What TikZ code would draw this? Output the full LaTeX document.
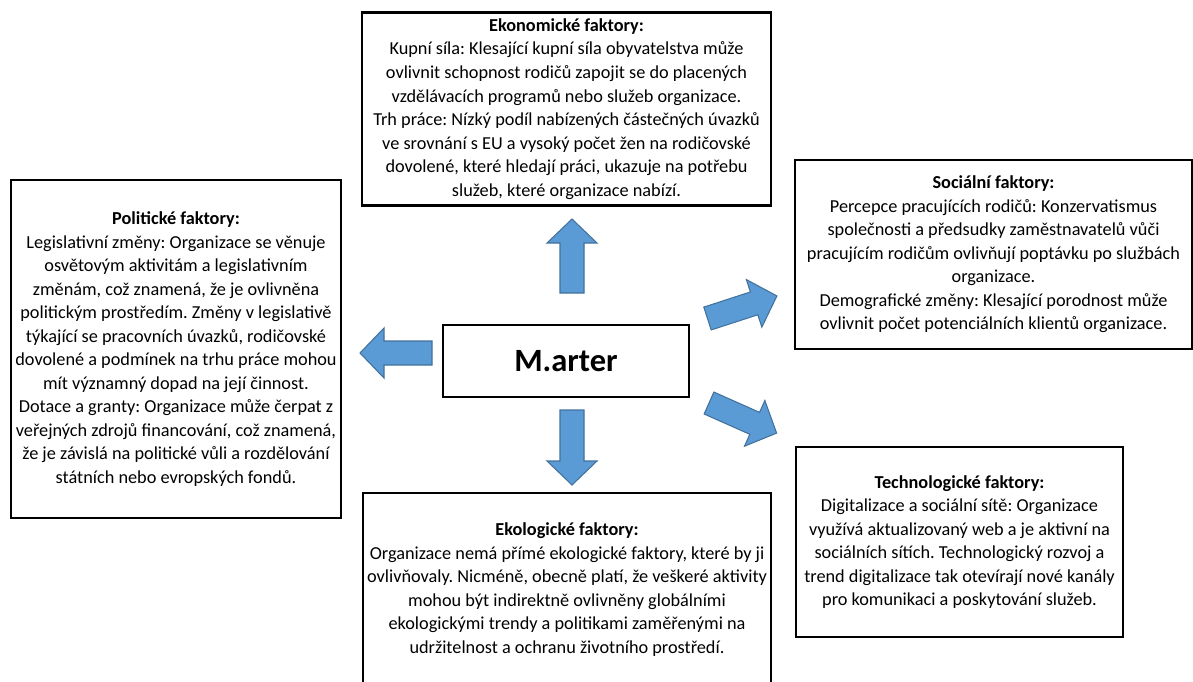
\documentclass[tikz,border=0pt]{standalone}
\usepackage{fontspec}
\setmainfont{Carlito}
\usepackage{tikz}
\usetikzlibrary{calc}
\definecolor{arrowblue}{HTML}{5B9BD5}
\definecolor{arrowline}{HTML}{41719C}
\def\blockarrow[#1](#2)(#3:#4){\draw[#1, shift={(#2)}, rotate=#3] (0,-12) -- (#4-24,-12) -- (#4-24,-25) -- (#4,0) -- (#4-24,25) -- (#4-24,12) -- (0,12) -- cycle;}
\frenchspacing

\begin{document}
\begin{tikzpicture}[x=0.02cm, y=-0.02cm,
	factorbox/.style={draw, line width=1.6pt, align=center, inner xsep=0pt,
		font=\fontsize{10.4}{13.4}\selectfont},
	bluearrow/.style={fill=arrowblue, draw=arrowline, line width=0.6pt}]
		%%%%% START %%%%%
		\useasboundingbox (0, 0) rectangle (1193, 681);
		
		\node[factorbox, minimum width=8.18cm, minimum height=3.86cm] (ekonomicke) at (566.5, 109) {\textbf{Ekonomické faktory:}\\
			Kupní síla: Klesající kupní síla obyvatelstva může\\
			ovlivnit schopnost rodičů zapojit se do placených\\
			vzdělávacích programů nebo služeb organizace.\\
			Trh práce: Nízký podíl nabízených částečných úvazků\\
			ve srovnání s EU a vysoký počet žen na rodičovské\\
			dovolené, které hledají práci, ukazuje na potřebu\\
			služeb, které organizace nabízí.};
		
		\node[factorbox, minimum width=6.6cm, minimum height=6.76cm] (politicke) at (176, 349) {\textbf{Politické faktory:}\\
			Legislativní změny: Organizace se věnuje\\
			osvětovým aktivitám a legislativním\\
			změnám, což znamená, že je ovlivněna\\
			politickým prostředím. Změny v legislativě\\
			týkající se pracovních úvazků, rodičovské\\
			dovolené a podmínek na trhu práce mohou\\
			mít významný dopad na její činnost.\\
			Dotace a granty: Organizace může čerpat z\\
			veřejných zdrojů financování, což znamená,\\
			že je závislá na politické vůli a rozdělování\\
			státních nebo evropských fondů.};
		
		\node[factorbox, minimum width=7.94cm, minimum height=3.78cm] (socialni) at (993.5, 254.5) {\textbf{Sociální faktory:}\\
			Percepce pracujících rodičů: Konzervatismus\\
			společnosti a předsudky zaměstnavatelů vůči\\
			pracujícím rodičům ovlivňují poptávku po službách\\
			organizace.\\
			Demografické změny: Klesající porodnost může\\
			ovlivnit počet potenciálních klientů organizace.};
		
		\node[factorbox, minimum width=6.54cm, minimum height=3.8cm] (technologicke) at (959.5, 542) {\textbf{Technologické faktory:}\\
			Digitalizace a sociální sítě: Organizace\\
			využívá aktualizovaný web a je aktivní na\\
			sociálních sítích. Technologický rozvoj a\\
			trend digitalizace tak otevírají nové kanály\\
			pro komunikaci a poskytování služeb.};
		
		\node[factorbox, minimum width=8.16cm, minimum height=3.86cm] (ekologicke) at (567, 589.5) {\textbf{Ekologické faktory:}\\
			Organizace nemá přímé ekologické faktory, které by ji\\
			ovlivňovaly. Nicméně, obecně platí, že veškeré aktivity\\
			mohou být indirektně ovlivněny globálními\\
			ekologickými trendy a politikami zaměřenými na\\
			udržitelnost a ochranu životního prostředí.};
		
		\node[draw, line width=1.6pt, minimum width=4.92cm, minimum height=1.44cm,
			font=\fontsize{18.5}{22}\selectfont\bfseries] (marter) at (566, 361) {M.arter};
		
		% block arrows round the centre
		\blockarrow[bluearrow](572, 293)(90:74)
		\blockarrow[bluearrow](572, 410)(-90:75)
		\blockarrow[bluearrow](432, 353)(180:72)
		\blockarrow[bluearrow](707.5, 318.5)(18:73)
		\blockarrow[bluearrow](709, 403)(-24:74)
		%%%%% END %%%%%
	\end{tikzpicture}
\end{document}
